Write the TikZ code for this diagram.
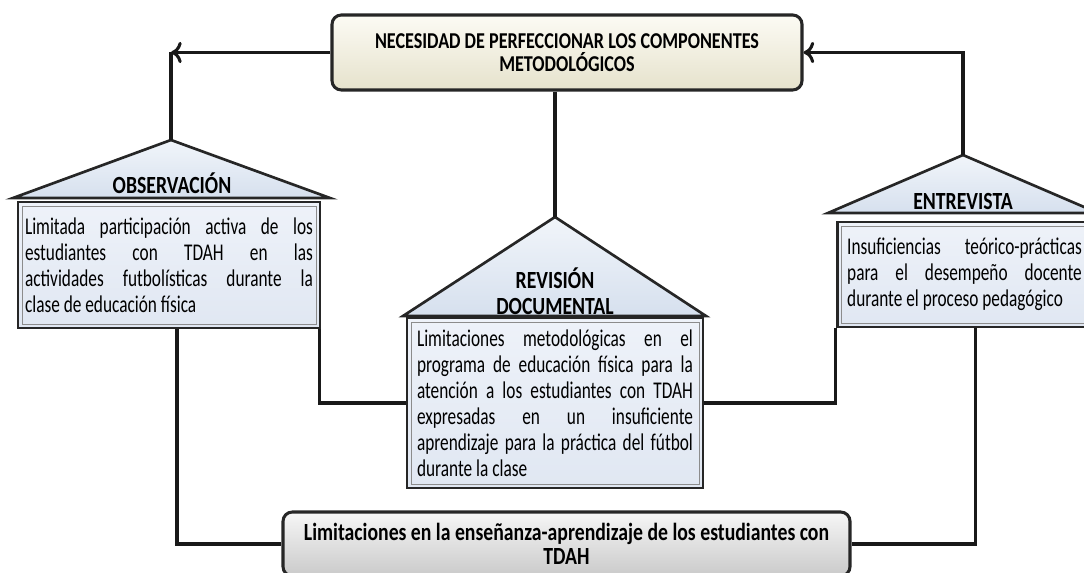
\documentclass[tikz,border=0pt]{standalone}
\usepackage{fontspec}
\setmainfont{Carlito}[FakeStretch=0.72,BoldFeatures={FakeStretch=0.8}]
\usetikzlibrary{arrows.meta}

\definecolor{bodytop}{HTML}{EEF2F9}
\definecolor{bodybot}{HTML}{E0E7F2}
\definecolor{rooftop}{HTML}{F1F5FA}
\definecolor{roofbot}{HTML}{D6E0EE}
\definecolor{creamtop}{HTML}{FCFBF4}
\definecolor{creambot}{HTML}{E6E2CC}
\definecolor{greytop}{HTML}{F6F6F6}
\definecolor{greybot}{HTML}{CACACA}

\tikzstyle{conn} = [line width=2.3pt, black!90]
\tikzstyle{roof} = [draw=black!85, line width=2pt, top color=rooftop, bottom color=roofbot]
\tikzstyle{body} = [rectangle, draw=black!85, line width=2pt, top color=bodytop, bottom color=bodybot,
	align=justify, inner ysep=3pt, font=\fontsize{18}{19.5}\selectfont,
	path picture={\draw[black!45, line width=0.7pt]
		([shift={(3pt,-3pt)}]path picture bounding box.north west) rectangle
		([shift={(-3pt,3pt)}]path picture bounding box.south east);}]
\tikzstyle{title} = [align=center, inner sep=0pt, font=\bfseries\fontsize{18.5}{19.5}\selectfont]
\tikzstyle{banner} = [rectangle, rounded corners=7pt, draw=black!85, line width=2.3pt,
	align=center, font=\bfseries\fontsize{17}{17.5}\selectfont]

\begin{document}
\begin{tikzpicture}[x=0.75pt,y=-0.75pt]
\useasboundingbox (0,0) rectangle (1084,573);
\clip (0,0) rectangle (1084,573);

% roofs
\coordinate (obsApex) at (171,140);
\coordinate (revApex) at (555,217);
\coordinate (entApex) at (963,155);
\draw[roof] (13,198) -- (obsApex) -- (330,198) -- cycle;
\draw[roof] (403,316) -- (revApex) -- (706,316) -- cycle;
\draw[roof] (828,213) -- (entApex) -- (1098,213) -- cycle;

% boxes
\node[banner, top color=creamtop, bottom color=creambot, minimum width=352.5pt, minimum height=56.25pt]
	(necesidad) at (567,52.5) {NECESIDAD DE PERFECCIONAR LOS COMPONENTES\\METODOLÓGICOS};
\node[body, text width=216pt, inner xsep=5.25pt, minimum height=94.5pt] (obsBody) at (169,265)
	{Limitada participación activa de los\linebreak estudiantes con TDAH en las\linebreak
	actividades futbolísticas durante la\linebreak clase de educación física};
\node[body, text width=207pt, inner xsep=7.5pt, minimum height=127.5pt] (revBody) at (555,403)
	{Limitaciones metodológicas en el\linebreak programa de educación física para la\linebreak
	atención a los estudiantes con TDAH\linebreak expresadas en un insuficiente\linebreak
	aprendizaje para la práctica del fútbol\linebreak durante la clase};
\node[body, text width=176pt, inner xsep=7.5pt, minimum height=78.75pt] (entBody) at (964.5,274.5)
	{Insuficiencias teórico-prácticas\linebreak para el desempeño docente\linebreak
	durante el proceso pedagógico};
\node[banner, top color=greytop, bottom color=greybot, minimum width=425.25pt, minimum height=48pt,
	font=\bfseries\fontsize{18.5}{17.5}\selectfont]
	(limitaciones) at (566.5,544) {Limitaciones en la enseñanza-aprendizaje de los estudiantes con\\TDAH};

% titles
\node[title] (obsTitle) at (172,183) {OBSERVACIÓN};
\node[title] (revTitle) at (555,291) {REVISIÓN\\DOCUMENTAL};
\node[title] (entTitle) at (963,201) {ENTREVISTA};

% connectors
\coordinate (obsCorner) at (obsApex |- necesidad.west);
\draw[conn, -{To[length=8pt,width=16pt]}] (necesidad.west) -- (obsCorner);
\draw[conn] (obsCorner) -- (obsApex);
\draw[conn, -{To[length=8pt,width=16pt]}] (entApex) |- (necesidad.east);
\draw[conn] (revApex |- necesidad.south) -- (revApex);
\draw[conn] ([xshift=-1.5pt]obsBody.south east) |- (revBody.west);
\draw[conn] (entBody.south west) |- (revBody.east);
\draw[conn] ([xshift=6pt]obsBody.south) |- (limitaciones.west);
\draw[conn] ([xshift=8.5pt]entBody.south) |- (limitaciones.east);
\end{tikzpicture}
\end{document}
